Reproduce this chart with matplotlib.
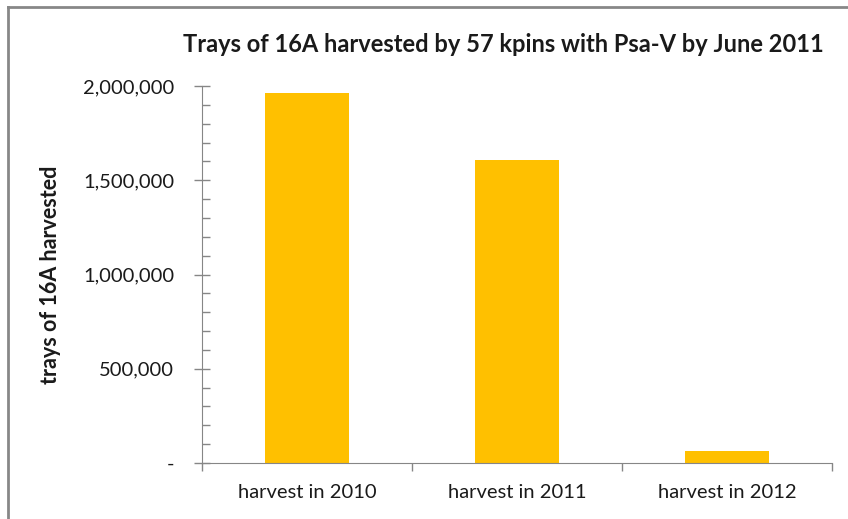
import matplotlib.pyplot as plt
from matplotlib.ticker import MultipleLocator, FuncFormatter
from matplotlib.lines import Line2D

categories = ["harvest in 2010", "harvest in 2011", "harvest in 2012"]
trays = [1962000, 1607000, 64000]

plt.rcParams["font.family"] = ["Lato", "DejaVu Sans"]

fig = plt.figure(figsize=(8.48, 5.19), dpi=100)
ax = fig.add_axes([202 / 848, 1 - 463 / 519, 630 / 848, 377 / 519])

x = range(len(categories))
ax.bar(x, trays, width=0.40, color="#FFC000", zorder=2)

ax.set_xlim(-0.5, 2.5)
ax.set_ylim(0, 2000000)

# y axis: major every 500k, minor every 100k
ax.yaxis.set_major_locator(MultipleLocator(500000))
ax.yaxis.set_minor_locator(MultipleLocator(100000))
ax.yaxis.set_major_formatter(FuncFormatter(lambda v, p: "-" if v == 0 else f"{int(v):,}"))
ax.tick_params(axis="y", which="major", direction="inout", length=12, width=1,
               color="#868686", labelsize=14.5, pad=14, labelcolor="#1a1a1a")
ax.tick_params(axis="y", which="minor", direction="in", length=6, width=1, color="#868686")

# x axis: ticks at category boundaries, labels centred
ax.set_xticks([-0.5, 0.5, 1.5, 2.5])
ax.set_xticklabels([])
ax.set_xticks(list(x), minor=True)
ax.set_xticklabels(categories, minor=True)
ax.tick_params(axis="x", which="major", direction="out", length=6, width=1, color="#868686")
ax.tick_params(axis="x", which="minor", length=0, labelsize=14.5, pad=15, labelcolor="#1a1a1a")

for side in ["top", "right"]:
    ax.spines[side].set_visible(False)
ax.spines["left"].set_color("#868686")
ax.spines["bottom"].set_color("#868686")

ax.set_ylabel("trays of 16A harvested", fontsize=15.5, fontweight="bold", labelpad=16, color="#1a1a1a")

fig.text(503 / 848, 1 - 44 / 519, "Trays of 16A harvested by 57 kpins with Psa-V by June 2011",
         ha="center", va="center", fontsize=17, fontweight="bold", color="#1a1a1a")

# chart frame (only left and top edges visible in the crop)
fig.add_artist(Line2D([8 / 848, 8 / 848], [0, 1 - 7 / 519], transform=fig.transFigure, color="#878787", lw=2))
fig.add_artist(Line2D([8 / 848, 1], [1 - 7 / 519, 1 - 7 / 519], transform=fig.transFigure, color="#878787", lw=2))

fig.savefig("out.png", dpi=100)
